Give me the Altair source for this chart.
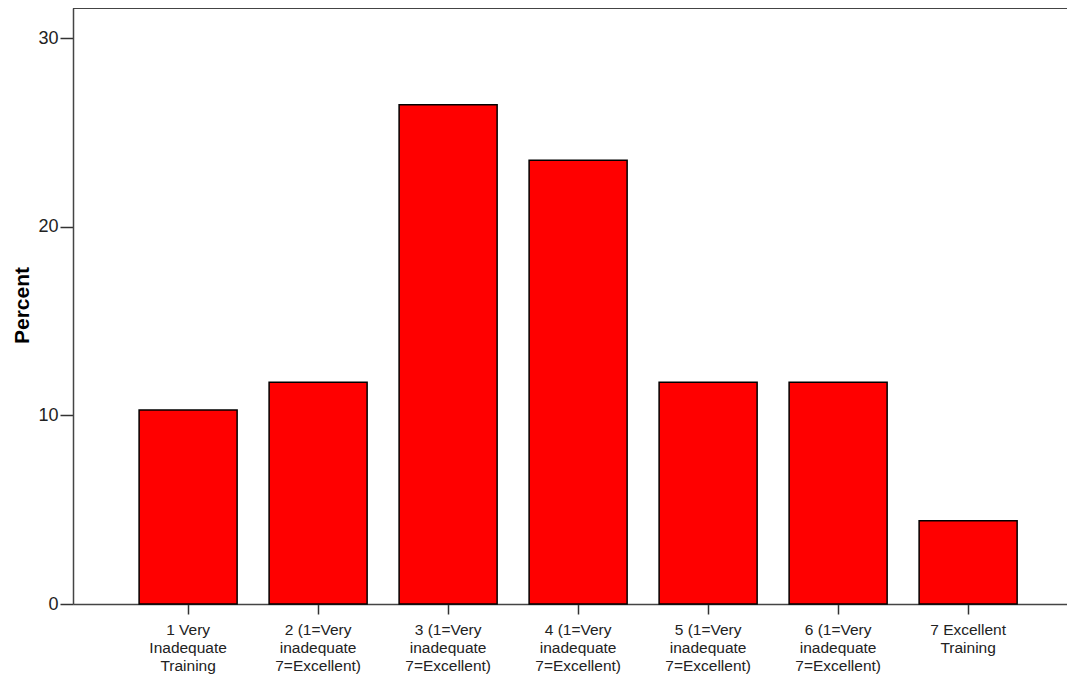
import altair as alt
import pandas as pd

categories = [
    "1 Very\nInadequate\nTraining",
    "2 (1=Very\ninadequate\n7=Excellent)",
    "3 (1=Very\ninadequate\n7=Excellent)",
    "4 (1=Very\ninadequate\n7=Excellent)",
    "5 (1=Very\ninadequate\n7=Excellent)",
    "6 (1=Very\ninadequate\n7=Excellent)",
    "7 Excellent\nTraining",
]
percent = [10.29, 11.76, 26.47, 23.53, 11.76, 11.76, 4.41]
y_ticks = [0, 10, 20, 30]

df = pd.DataFrame({"cat": categories, "pct": percent})

FONT = "Liberation Sans Narrow, Arial Narrow, Liberation Sans, Arial"
W, H = 994, 596

bars = alt.Chart(df).mark_bar(
    color="#FF0000", stroke="#000000", strokeWidth=1.5
).encode(
    x=alt.X(
        "cat:N",
        sort=None,
        title=None,
        scale=alt.Scale(paddingInner=0.246, paddingOuter=0.446, align=0.57),
        axis=alt.Axis(
            labelExpr="split(datum.value, '\\n')",
            labelAngle=0,
            labelFontSize=15.5,
            labelLineHeight=18,
            labelFont=FONT,
            labelColor="#222222",
            labelBaseline="top",
            tickSize=10,
            tickColor="#333333",
            tickWidth=1.5,
            labelPadding=8,
            domainColor="#444444",
            domainWidth=1.5,
        ),
    ),
    y=alt.Y(
        "pct:Q",
        scale=alt.Scale(domain=[0, 31.6], nice=False, zero=True),
        axis=alt.Axis(
            values=y_ticks,
            title="Percent",
            titleFont="Liberation Sans",
            titleFontSize=21,
            titleFontWeight="bold",
            titleColor="#000000",
            titleX=-51,
            titleY=297,
            titleAngle=-90,
            titleAlign="center",
            titleBaseline="middle",
            labelFontSize=18,
            labelFont=FONT,
            labelColor="#222222",
            tickSize=13,
            tickColor="#333333",
            tickWidth=1.5,
            labelPadding=2,
            domainColor="#444444",
            domainWidth=1.5,
            grid=False,
        ),
    ),
)

top_line = alt.Chart(df).mark_rule(color="#444444", strokeWidth=1.5).encode(
    x=alt.value(0), x2=alt.value(W), y=alt.value(0)
)

chart = (
    alt.layer(top_line, bars)
    .properties(
        width=W,
        height=H,
        autosize=alt.AutoSizeParams(type="none"),
        padding={"left": 65, "top": 0, "right": 0, "bottom": 70},
    )
    .configure_view(fill="#F0F0F0", stroke=None)
    .configure(background="#FFFFFF")
)

chart.save("out.html", embed_options={"renderer": "svg", "actions": False})
